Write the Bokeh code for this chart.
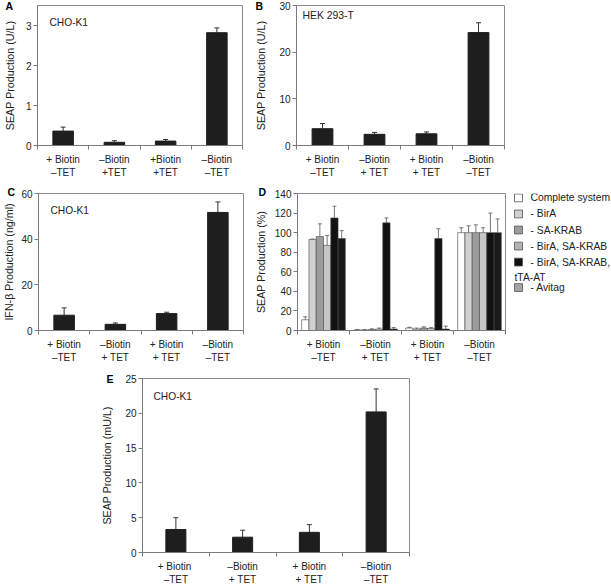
from bokeh.plotting import figure
from bokeh.models import (ColumnDataSource, Range1d, FixedTicker, Whisker, TeeHead, Label)
from bokeh.core.properties import value
from bokeh.layouts import column, row
from bokeh.embed import file_html
from bokeh.resources import INLINE

FONT = "Liberation Sans"
DASH = "\u2013"

# ---------------- data ----------------
labels_a = ["+ Biotin\n" + DASH + "TET", DASH + "Biotin\n+TET", "+Biotin\n+TET", DASH + "Biotin\n" + DASH + "TET"]
labels_b = ["+ Biotin\n" + DASH + "TET", DASH + "Biotin\n+ TET", "+ Biotin\n+ TET", DASH + "Biotin\n" + DASH + "TET"]
labels_e = ["+  Biotin\n" + DASH + "TET", DASH + "Biotin\n+ TET", "+ Biotin\n+ TET", DASH + "Biotin\n" + DASH + "TET"]

a_vals = [0.36, 0.08, 0.11, 2.82]
a_err = [0.10, 0.04, 0.04, 0.12]
b_vals = [3.6, 2.4, 2.5, 24.2]
b_err = [1.1, 0.4, 0.4, 2.1]
c_vals = [6.7, 2.7, 7.4, 51.7]
c_err = [3.2, 0.6, 0.6, 4.6]
e_vals = [3.3, 2.2, 2.9, 20.2]
e_err = [1.7, 1.0, 1.1, 3.3]

d_series = ["Complete system", "- BirA", "- SA-KRAB", "- BirA, SA-KRAB",
            "- BirA, SA-KRAB,\ntTA-AT", "- Avitag"]
d_colors = ["#ffffff", "#d0d0d0", "#9c9c9c", "#c6c6c6", "#111111", "#1a1a1a"]
d_swatch = ["#ffffff", "#d0d0d0", "#9c9c9c", "#b2b2b2", "#111111", "#a4a4a4"]
# values per series, across the four conditions
d_vals = [
    [11, 0.5, 2.5, 100],
    [93, 0.5, 1.5, 100],
    [96, 1.0, 2.5, 100],
    [87, 1.5, 2.0, 100],
    [115, 110, 94, 100],
    [94, 1.5, 1.5, 100],
]
d_err = [
    [3, 0.5, 0.8, 5],
    [0.5, 0.5, 1.0, 7],
    [13, 0.7, 1.2, 8],
    [10, 1.0, 1.0, 5],
    [12, 5, 10, 20],
    [8, 1.5, 3.0, 14],
]

BAR = "#1e1e1e"
AX = "#7a7a7a"
TXT = "#222222"


def style(p, labels, ylabel, yticks, label_standoff, letter, letter_offset, letter_standoff):
    p.outline_line_color = "#8a8a8a"
    p.outline_line_width = 1
    p.xgrid.visible = False
    p.ygrid.visible = False
    n = len(labels)
    p.xaxis.ticker = FixedTicker(ticks=list(range(1, n + 1)),
                                 minor_ticks=[i + 0.5 for i in range(n + 1)])
    p.xaxis.major_label_overrides = {i + 1: lab for i, lab in enumerate(labels)}
    p.xaxis.major_tick_line_color = None
    p.xaxis.major_tick_out = 0
    p.xaxis.minor_tick_line_color = AX
    p.xaxis.minor_tick_out = 4
    p.xaxis.minor_tick_in = 0
    p.xaxis.major_label_standoff = 4
    p.yaxis.ticker = FixedTicker(ticks=yticks)
    p.yaxis.minor_tick_line_color = None
    p.yaxis.major_tick_out = 4
    p.yaxis.major_tick_in = 0
    p.yaxis.major_tick_line_color = AX
    p.yaxis.major_label_standoff = 2
    p.yaxis.axis_label = ylabel
    p.yaxis.axis_label_standoff = int(label_standoff)
    p.yaxis.axis_label_text_font = FONT
    p.yaxis.axis_label_text_font_size = "10.7px"
    p.yaxis.axis_label_text_font_style = "normal"
    p.yaxis.axis_label_text_color = TXT
    for ax in (p.xaxis, p.yaxis):
        ax.axis_line_color = AX
        ax.major_label_text_font = FONT
        ax.major_label_text_font_size = "10px"
        ax.major_label_text_color = TXT
    # panel letter as the figure title, pulled to the left of the axis
    p.title.text = letter
    p.title.text_font = FONT
    p.title.text_font_size = "10.5px"
    p.title.text_font_style = "bold"
    p.title.text_color = "#000000"
    p.title.align = "left"
    p.title.offset = letter_offset
    p.title.standoff = int(letter_standoff)
    p.title.vertical_align = "bottom"


def add_text(p, text, ymax, dx, dy, size="10.2px"):
    p.add_layout(Label(x=0.5, y=ymax, x_offset=dx, y_offset=dy, text=text,
                       text_font=FONT, text_font_size=size, text_color=TXT,
                       text_align="left", text_baseline="middle"))


def simple_panel(vals, errs, labels, ylabel, ymax, yticks, W, H, bl, br, bt, bb, barw,
                 label_standoff, letter, letter_offset, letter_standoff):
    p = figure(width=W, height=H, output_backend="svg", toolbar_location=None,
               x_range=Range1d(0.5, len(vals) + 0.5), y_range=Range1d(0, ymax),
               min_border_left=bl, min_border_right=br, min_border_top=bt,
               min_border_bottom=bb)
    src = ColumnDataSource(dict(x=list(range(1, len(vals) + 1)), top=vals,
                                up=[v + e for v, e in zip(vals, errs)]))
    p.vbar(x="x", top="top", width=barw, source=src, fill_color=BAR, line_color=BAR)
    p.add_layout(Whisker(base="x", lower="top", upper="up", source=src,
                         line_color="#333333", line_width=1,
                         upper_head=TeeHead(size=5, line_color="#333333", line_width=1),
                         lower_head=None))
    style(p, labels, ylabel, yticks, label_standoff, letter, letter_offset, letter_standoff)
    return p


# ---------- panel A ----------
pa = simple_panel(a_vals, a_err, labels_a, "SEAP Production (U/L)", 3.5, [0, 1, 2, 3],
                  250, 185, 33, 8, 5, 40, 0.4, 7, "A", -32, -13)
add_text(pa, "CHO-K1", 3.5, 12, -17)

# ---------- panel B ----------
pb = simple_panel(b_vals, b_err, labels_b, "SEAP Production (U/L)", 30, [0, 10, 20, 30],
                  361, 185, 46, 107, 5, 40, 0.4, 9, "B", -41, -13)
add_text(pb, "HEK 293-T", 30, 6, -10, size="10.4px")

# ---------- panel C ----------
pc = simple_panel(c_vals, c_err, labels_b, "IFN-\u03b2 Production (ng/ml)", 60, [0, 20, 40, 60],
                  250, 180, 33, 7, 8, 32, 0.4, 3, "C", -31, -9)
add_text(pc, "CHO-K1", 60, 12, -17)

# ---------- panel D ----------
D_TOP, D_BOTTOM, D_H = 7, 33, 180
pd_ = figure(width=257, height=D_H, output_backend="svg", toolbar_location=None,
             x_range=Range1d(0.5, 4.5), y_range=Range1d(0, 140),
             min_border_left=47, min_border_right=2, min_border_top=D_TOP,
             min_border_bottom=D_BOTTOM)
n_s = len(d_series)
bw = 0.14
for j, col in enumerate(d_colors):
    xs = [g + 1 + (j - (n_s - 1) / 2) * bw for g in range(len(d_vals[j]))]
    src = ColumnDataSource(dict(x=xs, top=d_vals[j],
                                up=[v + e for v, e in zip(d_vals[j], d_err[j])]))
    pd_.vbar(x="x", top="top", width=bw, source=src, fill_color=col,
             line_color="#444444", line_width=0.6)
    pd_.add_layout(Whisker(base="x", lower="top", upper="up", source=src,
                           line_color="#555555", line_width=0.8,
                           upper_head=TeeHead(size=4, line_color="#555555", line_width=0.8),
                           lower_head=None))
style(pd_, labels_b, "SEAP Production (%)", list(range(0, 141, 20)), 5, "D", -39, -9)

# ---------- legend of panel D (own small canvas; its frame is row-aligned with D) ----------
lg = figure(width=104, height=D_H, output_backend="svg", toolbar_location=None,
            x_range=Range1d(0, 104), y_range=Range1d(D_H - D_BOTTOM, D_TOP),
            min_border_left=0, min_border_right=0, min_border_top=D_TOP,
            min_border_bottom=D_BOTTOM, x_axis_type=None, y_axis_type=None)
lg.outline_line_color = None
lg.xgrid.visible = False
lg.ygrid.visible = False
sw_y, tx_x, tx_y, tx_t = [], [], [], []
y = 11.5
for name in d_series:
    lines = name.split("\n")
    sw_y.append(y)
    for k, ln in enumerate(lines):
        tx_x.append(23 if k == 0 else 7)
        tx_y.append(y + 16.2 * k)
        tx_t.append(ln)
    y += 16.4 + 9.6 * (len(lines) - 1)
lg.rect(x=11, y=sw_y, width=8, height=8, fill_color=d_swatch,
        line_color="#555555", line_width=0.8)
lg.text(x=tx_x, y=tx_y, text=tx_t, text_font=value(FONT),
        text_font_size=value("10.3px"), text_color=TXT, text_baseline="middle")

# ---------- panel E ----------
pe = simple_panel(e_vals, e_err, labels_e, "SEAP Production (mU/L)", 25, [0, 5, 10, 15, 20, 25],
                  420, 222, 142, 11, 13, 28, 0.3, 9, "E", -36, -13)
add_text(pe, "CHO-K1", 25, 11, -18)

layout = column(row(pa, pb), row(pc, pd_, lg), row(pe))

open("out.html", "w").write(file_html(layout, INLINE))
